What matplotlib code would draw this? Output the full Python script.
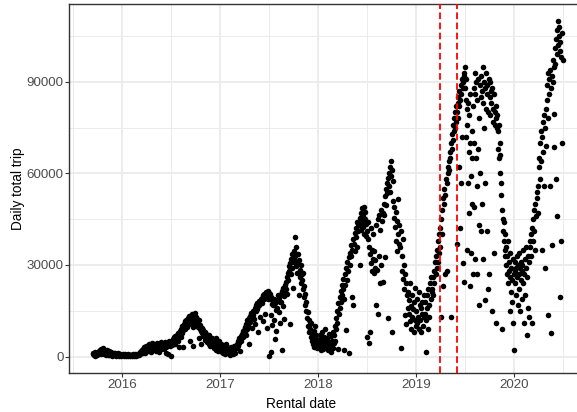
import numpy as np
import pandas as pd
import matplotlib
matplotlib.use("Agg")
import matplotlib.pyplot as plt
import matplotlib.dates as mdates

plt.rcParams['font.family'] = ['Liberation Sans', 'DejaVu Sans']

# ---------------- data (daily total trips, in thousands, read per month) ----------------
first_day = "2015-09-12"
first_month = "2015-09"

trips_k_2015 = [
    [0.8, 1.2, 0.5, 1.0, 0.3, 1.5, 0.9, 0.6, 1.1, 0.4],
    [1.2, 0.8, 1.8, 2.2, 1.5, 0.9, 2.5, 1.9, 1.3, 2.7, 1.7, 0.7, 2.1, 1.4, 0.5],
    [1.6, 1.0, 2.0, 0.6, 1.3, 1.8, 0.4, 1.1, 0.8, 1.5, 0.3, 1.2, 0.9, 0.6, 1.0],
    [0.8, 0.5, 1.1, 0.3, 0.9, 0.6, 0.4, 1.0, 0.7, 0.2, 0.8, 0.5, 0.3, 0.6, 0.4],
]
trips_k_2016 = [
    [0.5, 0.7, 0.3, 0.6, 0.4, 0.8, 0.2, 0.5, 0.6, 0.3, 0.7, 0.4, 0.5, 0.2, 0.6],
    [0.4, 0.6, 0.3, 0.7, 0.5, 0.2, 0.6, 0.8, 0.4, 0.5, 0.3, 0.9, 0.6, 0.7],
    [0.6, 0.9, 1.4, 0.8, 1.8, 1.2, 2.2, 1.0, 2.6, 1.6, 3.0, 2.0, 1.3, 2.8, 3.4],
    [2.4, 3.6, 1.8, 2.9, 4.0, 2.2, 3.3, 1.5, 3.9, 2.7, 4.3, 3.0, 2.0, 3.5, 4.1],
    [2.6, 3.8, 1.9, 3.2, 4.4, 2.8, 3.6, 1.6, 4.0, 3.1, 2.3, 4.6, 3.4, 2.9, 3.9],
    [3.3, 4.2, 2.5, 3.7, 4.8, 3.0, 1.2, 4.1, 3.6, 0.8, 4.5, 3.9, 5.0, 3.4, 4.3, 0.3],
    [4.5, 5.2, 3.8, 5.8, 4.9, 6.3, 5.5, 4.2, 6.8, 5.9, 7.2, 6.4, 5.0, 7.6, 6.9, 3.0],
    [7.0, 8.2, 6.5, 9.0, 7.8, 10.0, 8.6, 3.2, 9.5, 10.8, 8.9, 11.5, 10.2, 12.0, 9.6, 11.0],
    [11.2, 12.6, 10.5, 13.2, 11.8, 5.0, 12.9, 10.9, 13.8, 12.2, 9.8, 3.5, 11.6, 12.8, 14.2, 10.4],
    [13.0, 11.5, 12.2, 9.6, 10.8, 6.0, 11.9, 9.0, 10.3, 8.2, 4.0, 9.4, 7.6, 8.8, 6.8, 7.9],
    [7.2, 8.0, 5.5, 6.6, 7.4, 4.8, 6.0, 5.2, 6.9, 4.2, 5.6, 3.3, 5.0, 4.5, 6.2],
    [4.8, 3.6, 5.4, 2.8, 4.2, 3.5, 6.2, 2.2, 3.8, 4.6, 1.8, 3.2, 5.0, 2.6, 3.9],
]
trips_k_2017 = [
    [3.0, 4.2, 1.5, 2.6, 3.8, 1.0, 2.2, 3.4, 0.8, 2.8, 4.0, 1.8, 3.1, 2.0, 1.2],
    [1.5, 2.6, 0.6, 1.9, 3.0, 1.1, 2.3, 0.9, 1.6, 3.3, 2.0, 1.3, 2.8, 3.6],
    [2.8, 4.0, 3.4, 5.2, 4.4, 6.0, 1.9, 5.5, 6.8, 5.0, 7.5, 6.4, 8.2, 7.0, 8.8],
    [8.0, 9.6, 7.2, 10.5, 9.0, 11.8, 10.2, 12.5, 4.0, 11.3, 13.4, 12.0, 14.2, 9.2, 13.0],
    [13.6, 15.0, 12.4, 16.0, 10.5, 14.8, 16.8, 15.5, 17.5, 8.0, 16.4, 18.2, 17.0, 12.8, 18.8],
    [18.0, 19.2, 17.4, 20.0, 11.6, 18.8, 20.5, 19.5, 14.0, 21.0, 20.2, 9.5, 21.5, 19.0, 20.8],
    [0.2, 20.5, 18.8, 13.5, 1.6, 19.6, 17.2, 10.2, 18.4, 16.8, 12.0, 19.0, 5.8, 17.6, 15.2, 8.5, 18.2, 16.0],
    [18.5, 20.0, 14.5, 19.2, 17.8, 11.0, 20.6, 18.0, 2.2, 21.5, 16.5, 22.5, 19.8, 12.4, 23.5, 21.0],
    [22.0, 24.5, 26.0, 20.5, 27.5, 25.0, 29.5, 28.0, 10.5, 30.5, 27.0, 32.0, 29.0, 33.5, 31.0, 22.5],
    [34.5, 31.5, 39.0, 33.0, 29.5, 36.0, 30.5, 27.5, 33.5, 20.0, 31.5, 28.5, 26.0, 30.0, 24.0, 27.0],
    [25.0, 22.0, 27.5, 19.5, 23.0, 17.0, 20.5, 15.0, 18.0, 12.5, 14.5, 10.0, 12.0, 8.0, 10.5],
    [9.0, 6.5, 11.0, 5.0, 7.5, 4.0, 8.5, 3.2, 6.0, 10.0, 4.5, 7.0, 2.8, 5.5, 3.5],
]
trips_k_2018 = [
    [5.0, 3.0, 7.0, 4.2, 2.0, 6.0, 8.0, 3.5, 5.5, 2.5, 4.0, 6.5, 3.0, 9.0, 4.8, 3.8],
    [3.5, 6.0, 2.2, 5.0, 7.5, 3.0, 4.5, 1.6, 6.8, 3.8, 5.2, 2.8, 8.0, 4.4],
    [7.0, 10.0, 5.0, 12.5, 9.0, 15.0, 11.0, 17.5, 2.5, 14.0, 19.5, 16.0, 21.5, 18.0, 23.5, 20.0],
    [22.0, 25.5, 19.0, 2.0, 27.0, 23.5, 29.0, 8.7, 25.0, 31.0, 28.0, 32.5, 1.0, 30.0, 34.0],
    [33.0, 36.5, 19.6, 35.0, 38.5, 17.0, 37.0, 40.5, 34.5, 42.0, 39.0, 44.0, 36.0, 43.5, 41.0],
    [43.0, 30.0, 45.5, 41.5, 47.0, 44.0, 48.5, 42.5, 46.0, 49.0, 40.0, 45.0, 47.5, 39.5, 43.5],
    [41.0, 6.5, 44.0, 38.5, 4.4, 36.0, 8.0, 33.5, 42.0, 30.5, 35.0, 28.0, 32.0, 40.0, 27.5, 34.5, 29.0],
    [31.5, 43.0, 17.0, 28.5, 45.0, 14.0, 33.0, 46.5, 24.0, 41.5, 30.0, 48.0, 44.5, 24.5, 47.0],
    [50.0, 46.5, 52.5, 32.5, 55.0, 49.5, 57.0, 53.5, 58.5, 12.5, 56.0, 60.0, 54.0, 62.0, 59.0, 64.0],
    [61.0, 8.0, 57.5, 51.0, 45.5, 49.0, 42.5, 38.0, 47.5, 44.5, 34.5, 40.0, 51.5, 43.0, 37.0],
    [36.0, 41.0, 2.7, 33.0, 28.0, 38.5, 25.5, 30.0, 22.0, 13.5, 27.0, 10.5, 24.0, 20.0, 16.0],
    [21.0, 14.0, 18.5, 24.0, 11.5, 16.5, 9.0, 20.0, 13.0, 15.5, 8.0, 18.0, 12.0, 22.5, 10.0],
]
trips_k_2019 = [
    [15, 11, 19, 13, 21, 9, 17, 12, 16, 8, 14, 18, 10, 20, 13],
    [14, 18, 1.6, 12, 20, 16, 9, 22, 17, 13, 24, 19, 26, 21],
    [22, 26, 20, 28, 24, 31, 27, 33, 29, 35, 31, 38, 34, 40, 36],
    [42, 13, 45, 40, 48, 52, 23, 50, 55, 27, 53, 58, 28, 57, 62, 60],
    [64, 61, 67, 65, 70, 13, 68, 73, 71, 76, 74, 78, 75, 80, 77, 82],
    [80, 37, 83, 78, 85, 62, 82, 87, 42, 84, 89, 57, 86, 91, 72, 88, 30.5, 90, 93, 24.5, 92],
    [95, 88, 72, 91, 84, 35, 81, 76, 57, 83, 67, 47, 79, 23, 70, 86, 59, 34, 74, 50, 65, 27],
    [82, 70, 88, 49, 93, 32, 86, 65, 90, 56, 27, 84, 68, 91, 43, 78, 17, 89, 60, 85, 41],
    [92, 87, 50, 95, 83, 32, 90, 75, 88, 57, 18.5, 93, 81, 41, 89, 86, 22, 80, 91, 27],
    [90, 85, 79, 87, 83, 15, 88, 81, 77, 86, 34, 80, 76, 82, 78, 11, 75, 79],
    [74, 68, 76, 65, 70, 60, 66, 57, 53, 9, 48, 45, 41, 44, 38, 35, 40, 33],
    [36, 30, 33, 27, 38, 24, 31, 28, 15, 34, 26, 21, 29, 18, 25, 32, 11, 27],
]
trips_k_2020 = [
    [2, 28, 31, 24, 29, 20, 33, 26, 17, 30, 27, 22, 34, 29, 15, 25, 31, 19, 28],
    [30, 24, 35, 27, 11, 32, 20, 29, 36, 7, 26, 33, 16, 31, 13, 38],
    [36, 40, 33, 42, 11, 38, 45, 41, 48, 35, 50, 46, 54, 52, 56, 47],
    [62, 65, 58, 70, 64, 74, 35, 72, 67, 77, 56, 79, 29, 75, 81, 69],
    [89, 84, 93, 78, 13.6, 91, 86, 56, 94, 88, 7.6, 92, 36.5, 90, 97, 68.7, 95, 79.6],
    [96, 101, 58, 104, 99, 107, 46, 102, 110, 105, 108, 19.6, 103, 100, 38, 98, 106, 70, 97],
]

vline_dates = ["2019-04-01", "2019-06-01"]
y_ticks = [0, 30000, 60000, 90000]
x_tick_years = [2016, 2017, 2018, 2019, 2020]
x_label = "Rental date"
y_label = "Daily total trip"

# ---------------- assemble daily points ----------------
all_months = trips_k_2015 + trips_k_2016 + trips_k_2017 + trips_k_2018 + trips_k_2019 + trips_k_2020
periods = pd.period_range(first_month, periods=len(all_months), freq="M")
start0 = pd.Timestamp(first_day)
dates, vals = [], []
for per, mvals in zip(periods, all_months):
    s = max(per.start_time, start0)
    e = (per + 1).start_time
    n = len(mvals)
    for i, v in enumerate(mvals):
        dates.append(s + (e - s) * ((i + 0.5) / n))
        vals.append(v * 1000)
dates = pd.to_datetime(dates)
vals = np.array(vals)

# ---------------- figure ----------------
W, H = 577, 412
fig = plt.figure(figsize=(W / 100, H / 100), dpi=100)
ax_left, ax_right = 69.3, 586.0
ax_top, ax_bot = 4.0, 373.3
ax = fig.add_axes([ax_left / W, 1 - ax_bot / H, (ax_right - ax_left) / W, (ax_bot - ax_top) / H])

dmin, dmax = dates.min(), dates.max()
span = dmax - dmin
ax.set_xlim(dmin - span * 0.05, dmax + span * 0.05)
ymin, ymax = 0.0, vals.max()
yr = ymax - ymin
ax.set_ylim(ymin - 0.05 * yr, ymax + 0.05 * yr)

grid_c = "#EBEBEB"
major_x = [pd.Timestamp(f"{y}-01-01") for y in x_tick_years]
minor_x = [pd.Timestamp(f"{y}-07-02") for y in [2015] + x_tick_years]
for d in minor_x:
    ax.axvline(d, color=grid_c, lw=0.7, zorder=0)
for d in major_x:
    ax.axvline(d, color=grid_c, lw=1.35, zorder=0)
minor_y = [t + 15000 for t in y_ticks] + [y_ticks[0] - 15000]
for t in minor_y:
    ax.axhline(t, color=grid_c, lw=0.7, zorder=0)
for t in y_ticks:
    ax.axhline(t, color=grid_c, lw=1.35, zorder=0)

ax.scatter(dates, vals, s=16, c="black", linewidths=0, zorder=3)

for d in vline_dates:
    ax.axvline(pd.Timestamp(d), color="red", lw=1.3, linestyle=(0, (3.7, 1.9)), zorder=4)

ax.set_xticks(major_x)
ax.xaxis.set_major_formatter(mdates.DateFormatter("%Y"))
ax.set_yticks(y_ticks)
ax.set_yticklabels([str(t) for t in y_ticks])
ax.tick_params(axis="both", which="major", length=2.7, width=0.8, color="#333333",
               labelcolor="#4D4D4D", labelsize=9.6, pad=1.5)

for sp in ax.spines.values():
    sp.set_color("#333333")
    sp.set_linewidth(1.0)

fig.text(18 / W, 1 - 189 / H, y_label, rotation=90, ha="center", va="center",
         fontsize=9.8, color="black")
ax.set_xlabel(x_label, fontsize=9.8, color="black", labelpad=2)
ax.xaxis.set_label_coords((301 - ax_left) / (ax_right - ax_left), -0.065)

fig.savefig("out.png", dpi=100)
